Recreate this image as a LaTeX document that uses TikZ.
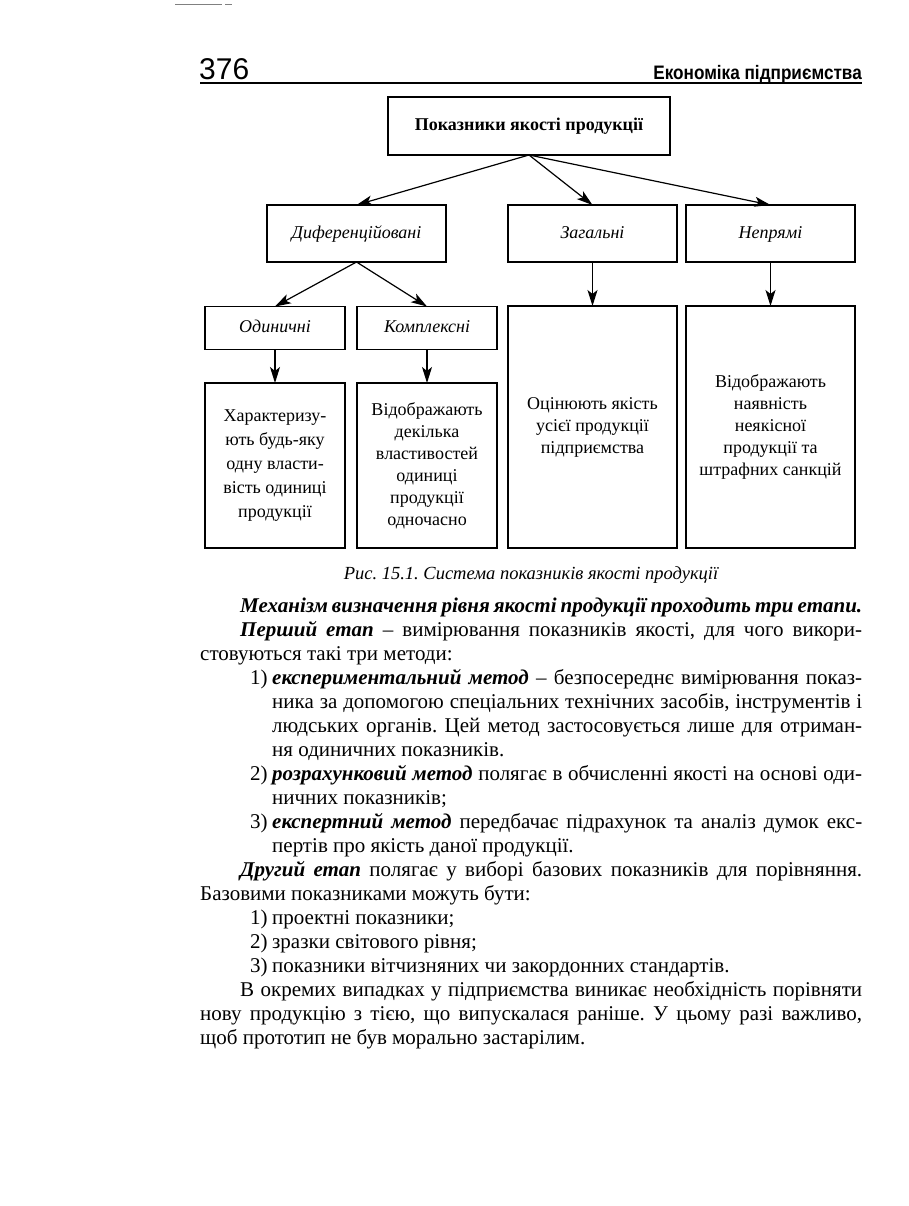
\documentclass[tikz,border=0pt]{standalone}
\usepackage{fontspec}
\setmainfont{Liberation Serif}
\newfontfamily\headfont{Liberation Sans}
\usetikzlibrary{arrows.meta,positioning}
\newcommand{\bodyline}[6]{%
	\node[textline] (#1) at (#2,#3) {\makebox[#4pt][#5]{#6}};
}
\newcommand{\bi}[1]{\textbf{\textit{#1}}}
\frenchspacing

\begin{document}
\begin{tikzpicture}[x=1pt,y=-1pt,
		box/.style={draw, line width=1.1pt, inner sep=2pt, outer sep=0pt, align=center, font=\fontsize{18}{22}\selectfont},
		label/.style={box, text height=13pt, text depth=4pt, font=\itshape\fontsize{18}{22}\selectfont},
		pil/.style={-{Stealth[length=16pt,width=10pt,inset=4pt]}, line width=1.2pt},
		textline/.style={anchor=base west, inner sep=0pt, font=\fontsize{21}{24}\selectfont}]
		\useasboundingbox (0,0) rectangle (908,1206);
		% page head
		\draw[line width=0.8pt, gray] (175,4) -- (222,4) (225,4) -- (232,4);
		\node[anchor=base west, inner sep=0pt, font=\headfont\fontsize{30}{30}\selectfont] (page) at (199,80) {376};
		\node[anchor=base east, inner sep=0pt, font=\headfont\bfseries\fontsize{19.5}{19}\selectfont] (head) at (862,80) {\scalebox{0.88}[1]{Економіка підприємства}};
		\draw[line width=1.5pt] (200,83) -- (862,83);
		% diagram
		\node[box, font=\bfseries\fontsize{18}{22}\selectfont, minimum width=282pt, minimum height=58pt] (top) at (529,126) {Показники якості продукції};
		\node[label, minimum width=179pt, minimum height=57pt] (dif) at (356.5,233.5) {Диференційовані};
		\node[label, minimum width=169pt, minimum height=57pt] (zag) at (592.5,233.5) {Загальні};
		\node[label, minimum width=169pt, minimum height=57pt] (nep) at (770.5,233.5) {Непрямі};
		\node[label, minimum width=140pt, minimum height=43pt] (odn) at (275,328) {Одиничні};
		\node[label, minimum width=140pt, minimum height=43pt] (kom) at (427,328) {Комплексні};
		\node[box, minimum width=169pt, minimum height=242pt] (zagd) at (592.5,427) {Оцінюють якість\\усієї продукції\\підприємства};
		\node[box, minimum width=169pt, minimum height=242pt] (nepd) at (770.5,427) {Відображають\\наявність\\неякісної\\продукції та\\штрафних санкцій};
		\node[box, font=\fontsize{18}{24}\selectfont, minimum width=140pt, minimum height=165pt] (odnd) at (275,465.5) {Характеризу-\\ють будь-яку\\одну власти-\\вість одиниці\\продукції};
		\node[box, minimum width=140pt, minimum height=165pt] (komd) at (427,465.5) {Відображають\\декілька\\властивостей\\одиниці\\продукції\\одночасно};
		\draw[pil] (top.south) -- (dif.north);
		\draw[pil] (top.south) -- (zag.north);
		\draw[pil] (top.south) -- (nep.north);
		\draw[pil] (dif.south) -- (odn.north);
		\draw[pil] (dif.south) -- (kom.north);
		\draw[pil] (zag) -- (zagd);
		\draw[pil] (nep) -- (nepd);
		\draw[pil] (odn) -- (odnd);
		\draw[pil] (kom) -- (komd);
		\node[anchor=base, inner sep=0pt, font=\itshape\fontsize{18.5}{20}\selectfont] (caption) at (531,579) {Рис. 15.1. Система показників якості продукції};
		% text
		\bodyline{l1}{240}{612}{622}{s}{\bi{Механізм визначення рівня якості продукції проходить три етапи.}}
		\bodyline{l2}{240}{636}{622}{s}{\bi{Перший етап} – вимірювання показників якості, для чого викори-}
		\bodyline{l3}{200}{660}{662}{l}{стовуються такі три методи:}
		\node[textline] (n1) at (250,684) {1)};
		\bodyline{l4}{272}{684}{590}{s}{\bi{експериментальний метод} – безпосереднє вимірювання показ-}
		\bodyline{l5}{272}{708}{590}{s}{ника за допомогою спеціальних технічних засобів, інструментів і}
		\bodyline{l6}{272}{732}{590}{s}{людських органів. Цей метод застосовується лише для отриман-}
		\bodyline{l7}{272}{756}{590}{l}{ня одиничних показників.}
		\node[textline] (n2) at (250,780) {2)};
		\bodyline{l8}{272}{780}{590}{s}{\bi{розрахунковий метод} полягає в обчисленні якості на основі оди-}
		\bodyline{l9}{272}{804}{590}{l}{ничних показників;}
		\node[textline] (n3) at (250,828) {3)};
		\bodyline{l10}{272}{828}{590}{s}{\bi{експертний метод} передбачає підрахунок та аналіз думок екс-}
		\bodyline{l11}{272}{852}{590}{l}{пертів про якість даної продукції.}
		\bodyline{l12}{240}{876}{622}{s}{\bi{Другий етап} полягає у виборі базових показників для порівняння.}
		\bodyline{l13}{200}{900}{662}{l}{Базовими показниками можуть бути:}
		\node[textline] (m1) at (250,924) {1)};
		\bodyline{l14}{272}{924}{590}{l}{проектні показники;}
		\node[textline] (m2) at (250,948) {2)};
		\bodyline{l15}{272}{948}{590}{l}{зразки світового рівня;}
		\node[textline] (m3) at (250,972) {3)};
		\bodyline{l16}{272}{972}{590}{l}{показники вітчизняних чи закордонних стандартів.}
		\bodyline{l17}{240}{996}{622}{s}{В окремих випадках у підприємства виникає необхідність порівняти}
		\bodyline{l18}{200}{1020}{662}{s}{нову продукцію з тією, що випускалася раніше. У цьому разі важливо,}
		\bodyline{l19}{200}{1044}{662}{l}{щоб прототип не був морально застарілим.}
	\end{tikzpicture}
\end{document}
